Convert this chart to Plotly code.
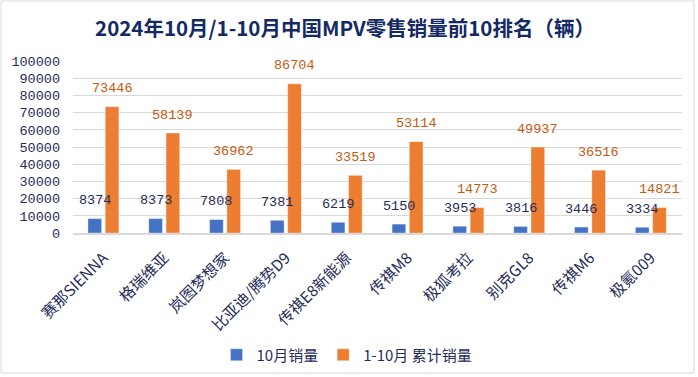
import plotly.graph_objects as go

categories = ["赛那SIENNA", "格瑞维亚", "岚图梦想家", "比亚迪/腾势D9", "传祺E8新能源",
              "传祺M8", "极狐考拉", "别克GL8", "传祺M6", "极氪009"]
oct_sales = [8374, 8373, 7808, 7381, 6219, 5150, 3953, 3816, 3446, 3334]
ytd_sales = [73446, 58139, 36962, 86704, 33519, 53114, 14773, 49937, 36516, 14821]
y_ticks = [0, 10000, 20000, 30000, 40000, 50000, 60000, 70000, 80000, 90000, 100000]

W, H = 698, 377
L, R, T, B = 73, 16, 61, 144
plot_w = W - L - R
plot_h = H - T - B

NAVY = "#1F2D5A"
BLUE = "#4472C4"
ORANGE = "#ED7D31"
ORANGE_TXT = "#C55A11"
MONO = "Liberation Mono"
CJK = "Noto Sans CJK SC"

fig = go.Figure()
fig.add_trace(go.Bar(x=categories, y=oct_sales, name="10月销量",
                     marker=dict(color=BLUE, line=dict(color="rgba(255,255,255,0.35)", width=1))))
fig.add_trace(go.Bar(x=categories, y=ytd_sales, name="1-10月 累计销量",
                     marker=dict(color=ORANGE, line=dict(color="rgba(255,255,255,0.35)", width=1))))

slot_px = plot_w / len(categories) * (1 - 0.432) / 2
for c, v in zip(categories, oct_sales):
    fig.add_annotation(x=c, y=v, text=str(v), showarrow=False, xshift=-slot_px / 2, yshift=18,
                       yanchor="middle", font=dict(family=MONO, size=13.5, color=NAVY))
for c, v in zip(categories, ytd_sales):
    fig.add_annotation(x=c, y=v, text=str(v), showarrow=False, xshift=slot_px / 2, yshift=18,
                       yanchor="middle", font=dict(family=MONO, size=13.5, color=ORANGE_TXT))

def px_x(p):
    return (p - L) / plot_w

def px_y(p):
    return (H - B - p) / plot_h

fig.add_shape(type="rect", xref="paper", yref="paper",
              x0=px_x(1), x1=px_x(694), y0=px_y(373), y1=px_y(1),
              line=dict(color="#D9D9D9", width=1), layer="below")

fig.update_layout(
    width=W, height=H,
    margin=dict(l=L, r=R, t=T, b=B, autoexpand=False),
    paper_bgcolor="white", plot_bgcolor="white",
    barmode="group", bargap=0.432, bargroupgap=0.21,
    title=dict(text="<b>2024年10月/1-10月中国MPV零售销量前10排名（辆）</b>",
               x=345 / W, xref="container", xanchor="center",
               y=1 - 29 / H, yref="container", yanchor="middle",
               font=dict(family=CJK, size=20.5, color="#132A64")),
    xaxis=dict(tickangle=-45, tickfont=dict(family=CJK, size=15.5, color=NAVY),
               showgrid=False, showline=True, linecolor="#D9D9D9", linewidth=1.5, ticks="",
               ticklabelstandoff=8),
    yaxis=dict(range=[0, 100000], tickvals=y_ticks, ticktext=[str(t) for t in y_ticks],
               tickfont=dict(family=MONO, size=13.5, color=NAVY),
               showgrid=True, gridcolor="#D9D9D9", gridwidth=1, zeroline=False,
               ticklabelstandoff=12),
    legend=dict(orientation="h", x=px_x(347), xanchor="center", y=px_y(355), yanchor="middle",
                font=dict(family=CJK, size=15, color=NAVY), itemwidth=30, traceorder="normal",
                entrywidth=0),
    showlegend=True,
)

fig.write_html("out.html", post_script="document.body.style.margin='0';",
               config={"displayModeBar": False})
